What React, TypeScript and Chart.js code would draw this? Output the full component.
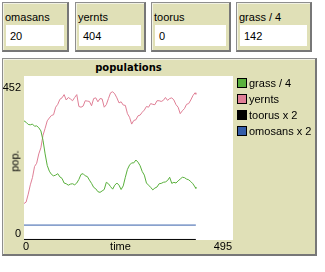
import React, { useEffect, useRef } from "react";
import { Chart, registerables } from "chart.js";

Chart.register(...registerables);

// ---- data ----
const time = [
  0, 5, 10, 15, 20, 25, 30, 35, 40, 45, 50, 55, 60, 65, 70, 75, 80, 85, 90, 95,
  100, 105, 110, 115, 120, 125, 130, 135, 140, 145, 150, 155, 160, 165, 170, 175, 180, 185, 190, 195,
  200, 205, 210, 215, 220, 225, 230, 235, 240, 245, 250, 255, 260, 265, 270, 275, 280, 285, 290, 295,
  300, 305, 310, 315, 320, 325, 330, 335, 340, 345, 350, 355, 360, 365, 370, 375, 380, 385, 390, 395,
  400, 405, 407,
];
const grassDiv4 = [
  330, 326, 320, 319, 321, 315, 316, 311, 302, 276, 238, 206, 190, 181, 177, 179, 183, 174, 170, 157,
  155, 151, 154, 155, 152, 157, 167, 181, 183, 177, 175, 165, 156, 145, 141, 133, 131, 135, 139, 159,
  155, 147, 140, 151, 157, 151, 139, 149, 173, 195, 207, 213, 213, 221, 215, 205, 189, 179, 157, 151,
  145, 138, 143, 146, 155, 156, 159, 160, 164, 173, 156, 159, 157, 163, 168, 173, 172, 168, 166, 161,
  155, 146, 142,
];
const yernts = [
  100, 104, 126, 152, 172, 203, 212, 238, 255, 290, 309, 330, 338, 345, 347, 368, 376, 390, 394, 403,
  388, 395, 391, 386, 395, 403, 370, 368, 371, 386, 385, 384, 372, 392, 394, 383, 392, 391, 368, 375,
  392, 408, 411, 405, 394, 380, 383, 374, 373, 350, 340, 321, 331, 333, 344, 346, 354, 360, 370, 368,
  378, 376, 375, 386, 386, 384, 387, 395, 387, 392, 394, 388, 375, 368, 350, 358, 364, 376, 378, 388,
  400, 408, 404,
];
const flatTime = [0, 407];
const toorusX2 = [0, 0];
const omosansX2 = [40, 40];

const xTickLabels = [0, 495];
const yTickLabels = [0, 452];

const monitorLabels = ["omasans", "yernts", "toorus", "grass / 4"];
const monitorValues = ["20", "404", "0", "142"];
const legendLabels = ["grass / 4", "yernts", "toorus x 2", "omosans x 2"];
const seriesColors = ["rgb(89,176,60)", "rgb(224,127,150)", "rgb(0,0,0)", "rgb(52,93,169)"];
const plotTitle = "populations";
const xAxisTitle = "time";
const yAxisTitle = "pop.";

// ---- styling ----
const BEIGE = "rgb(224,224,183)";
const FONT = '"Liberation Sans", Arial, sans-serif';
const boxStyle: React.CSSProperties = {
  position: "absolute",
  boxSizing: "border-box",
  background: BEIGE,
  borderTop: "1px solid #8e8e8e",
  borderLeft: "1px solid #8e8e8e",
  borderRight: "2px solid #777",
  borderBottom: "2px solid #777",
  boxShadow: "inset 1px 1px 0 #f2f2e4",
};

const monitorBoxes = [
  { left: 2, width: 67 },
  { left: 75, width: 71 },
  { left: 151, width: 80 },
  { left: 236, width: 76 },
];

const pts = (xs: number[], ys: number[]) => xs.map((x, i) => ({ x, y: ys[i] }));

const plotPlugin = {
  id: "netlogoPlot",
  beforeDraw(chart: any) {
    const { ctx, chartArea: a } = chart;
    ctx.save();
    ctx.fillStyle = "#ffffff";
    ctx.fillRect(a.left, a.top - 1, a.right - a.left, a.bottom - a.top + 1);
    ctx.restore();
  },
  afterDraw(chart: any) {
    const { ctx, chartArea: a, scales } = chart;
    const xs = scales.x;
    const ys = scales.y;
    ctx.save();
    ctx.fillStyle = "#000";
    ctx.font = `11px ${FONT}`;
    ctx.textBaseline = "alphabetic";
    // y tick labels
    ctx.textAlign = "right";
    ctx.fillText(String(yTickLabels[1]), a.left - 3, ys.getPixelForValue(yTickLabels[1]) + 14);
    ctx.fillText(String(yTickLabels[0]), a.left - 3, ys.getPixelForValue(yTickLabels[0]) - 2.5);
    // x tick labels
    ctx.textAlign = "left";
    ctx.fillText(String(xTickLabels[0]), xs.getPixelForValue(xTickLabels[0]) - 1, a.bottom + 10);
    ctx.textAlign = "right";
    ctx.fillText(String(xTickLabels[1]), xs.getPixelForValue(xTickLabels[1]) - 1, a.bottom + 10);
    ctx.restore();
  },
};

export default function App() {
  const canvasRef = useRef<HTMLCanvasElement | null>(null);

  useEffect(() => {
    const canvas = canvasRef.current;
    if (!canvas) return;
    const mk = (label: string, data: any[], color: string) => ({
      label,
      data,
      borderColor: color,
      backgroundColor: color,
      borderWidth: 1,
      pointRadius: 0,
      tension: 0,
      fill: false,
    });
    const chart = new Chart(canvas, {
      type: "line",
      data: {
        datasets: [
          mk(legendLabels[0], pts(time, grassDiv4), seriesColors[0]),
          mk(legendLabels[1], pts(time, yernts), seriesColors[1]),
          mk(legendLabels[2], pts(flatTime, toorusX2), seriesColors[2]),
          mk(legendLabels[3], pts(flatTime, omosansX2), seriesColors[3]),
        ],
      },
      options: {
        animation: false,
        responsive: false,
        events: [],
        layout: { padding: { left: 24, right: 92, top: 77, bottom: 32 } },
        plugins: {
          legend: { display: false },
          title: { display: false },
          tooltip: { enabled: false },
        },
        scales: {
          x: { type: "linear", min: 0, max: xTickLabels[1], display: false },
          y: { type: "linear", min: -1.5, max: yTickLabels[1], display: false },
        },
      },
      plugins: [plotPlugin],
    });
    return () => chart.destroy();
  }, []);

  const txt = (extra: React.CSSProperties): React.CSSProperties => ({
    position: "absolute",
    fontFamily: FONT,
    fontSize: 11,
    lineHeight: "11px",
    whiteSpace: "nowrap",
    color: "#000",
    ...extra,
  });

  return (
    <div style={{ position: "absolute", left: 0, top: 0, width: 325, height: 272, background: "#fff", overflow: "hidden" }}>
      {monitorBoxes.map((b, i) => (
        <div key={i}>
          <div style={{ ...boxStyle, left: b.left, top: 2, width: b.width, height: 50 }} />
          <div style={txt({ left: b.left + 3, top: 12 })}>{monitorLabels[i]}</div>
          <div style={{ position: "absolute", background: "#fff", left: b.left + 4, top: 25, width: b.width - 9, height: 21 }} />
          <div style={txt({ left: b.left + 8, top: 31 })}>{monitorValues[i]}</div>
        </div>
      ))}
      <div style={{ ...boxStyle, left: 2, top: 58, width: 315, height: 198 }} />
      <div
        style={{
          position: "absolute",
          left: 128.5,
          top: 63,
          transform: "translateX(-50%)",
          fontFamily: '"DejaVu Sans", sans-serif',
          fontWeight: "bold",
          fontSize: 10,
          lineHeight: "10px",
          whiteSpace: "nowrap",
          color: "#000",
        }}
      >
        {plotTitle}
      </div>
      <canvas ref={canvasRef} width={325} height={272} style={{ position: "absolute", left: 0, top: 0, width: 325, height: 272 }} />
      <div style={txt({ left: 120.5, top: 241, transform: "translateX(-50%)" })}>{xAxisTitle}</div>
      <div
        style={txt({
          left: 14.7,
          top: 160.5,
          transform: "translate(-50%, -50%) rotate(-90deg)",
        })}
      >
        {yAxisTitle}
      </div>
      {legendLabels.map((l, i) => (
        <div key={l}>
          <div
            style={{
              position: "absolute",
              boxSizing: "border-box",
              left: 237,
              top: 78 + i * 16,
              width: 10,
              height: 10,
              background: seriesColors[i],
              border: "1px solid #000",
            }}
          />
          <div style={txt({ left: 249, top: 78 + i * 16 })}>{l}</div>
        </div>
      ))}
    </div>
  );
}
